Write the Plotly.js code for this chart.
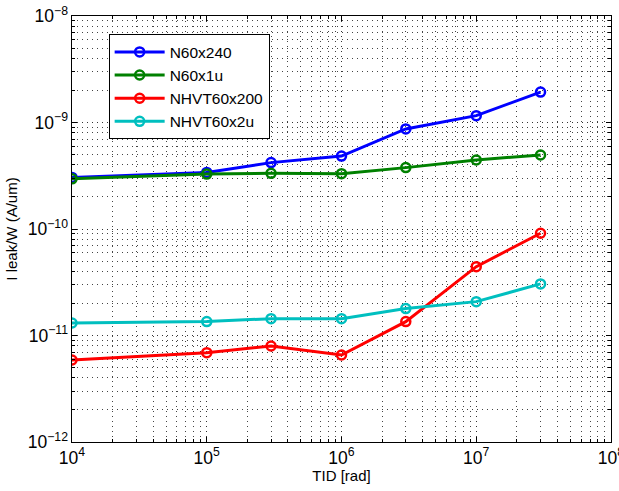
<!DOCTYPE html>
<html><head><meta charset="utf-8">
<script src="https://cdn.plot.ly/plotly-3.0.1.min.js"></script>
<style>html,body{margin:0;padding:0;background:#fff}#plot{width:619px;height:491px}</style>
</head><body><div id="plot"></div>
<script>
const tid = [1e4, 1e5, 3e5, 1e6, 3e6, 1e7, 3e7];
const n60x240 = [3.05e-10, 3.4e-10, 4.2e-10, 4.84e-10, 8.7e-10, 1.16e-9, 1.93e-9];
const n60x1u = [2.96e-10, 3.28e-10, 3.33e-10, 3.31e-10, 3.77e-10, 4.45e-10, 4.95e-10];
const nhvt60x200 = [5.89e-12, 6.9e-12, 7.97e-12, 6.56e-12, 1.35e-11, 4.43e-11, 9.12e-11];
const nhvt60x2u = [1.31e-11, 1.35e-11, 1.44e-11, 1.44e-11, 1.79e-11, 2.08e-11, 3.05e-11];
const names = ['N60x240', 'N60x1u', 'NHVT60x200', 'NHVT60x2u'];
const colors = ['#0000ff', '#008000', '#ff0000', '#00bfbf'];
const series = [n60x240, n60x1u, nhvt60x200, nhvt60x2u];

const FONT = '"Liberation Sans", Arial, sans-serif';
const traces = series.map((ys, i) => ({
  x: tid, y: ys, name: names[i], type: 'scatter', mode: 'lines+markers',
  line: {color: colors[i], width: 3},
  marker: {symbol: 'circle-open', size: 9, color: colors[i], line: {width: 2.5, color: colors[i]}}
}));

const axisCommon = {
  type: 'log', showline: true, linecolor: '#000', linewidth: 1.2, mirror: 'allticks',
  ticks: 'inside', ticklen: 5, tickcolor: '#000', dtick: 1,
  exponentformat: 'power', showexponent: 'all', ticklabeloverflow: 'allow',
  showgrid: true, gridcolor: '#333', griddash: '1px,4px', gridwidth: 1,
  zeroline: false,
  tickfont: {family: FONT, size: 14, color: '#000'},
  minor: {dtick: 'D1', ticks: 'inside', ticklen: 3, tickcolor: '#000', showgrid: true, gridcolor: '#444', griddash: '1px,4px', gridwidth: 1}
};

const layout = {
  width: 619, height: 491,
  margin: {l: 72, r: 8, t: 16, b: 49},
  paper_bgcolor: '#fff', plot_bgcolor: '#fff',
  showlegend: true,
  legend: {x: 0.068, y: 0.957, xanchor: 'left', yanchor: 'top', bgcolor: '#fff', bordercolor: '#000', borderwidth: 1,
    font: {family: FONT, size: 15.5, color: '#000'}, tracegroupgap: 0, itemwidth: 50},
  xaxis: Object.assign({}, axisCommon, {range: [4, 8],
    title: {text: 'TID [rad]', font: {family: FONT, size: 15, color: '#000'}, standoff: 4}}),
  yaxis: Object.assign({}, axisCommon, {range: [-12, -8],
    title: {text: 'I leak/W (A/um)', font: {family: FONT, size: 15, color: '#000'}, standoff: 6}})
};

Plotly.newPlot('plot', traces, layout, {displayModeBar: false, staticPlot: true});
</script></body></html>
